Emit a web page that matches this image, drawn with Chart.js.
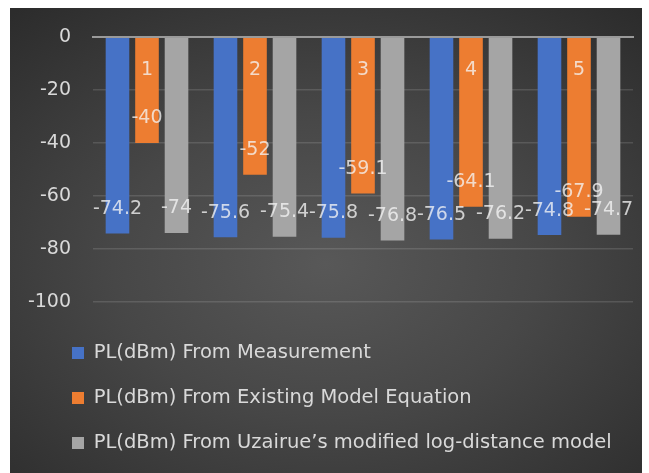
<!DOCTYPE html>
<html>
<head>
<meta charset="utf-8">
<script src="https://cdn.jsdelivr.net/npm/chart.js@4"></script>
<style>
  html, body { margin: 0; padding: 0; background: #ffffff; }
  body { width: 649px; height: 473px; position: relative; overflow: hidden; }
  #panel {
    position: absolute; left: 10px; top: 8px; width: 632px; height: 465px;
    background: radial-gradient(ellipse 75% 72% at 50% 55%, #585858 0%, #474747 45%, #2c2c2c 100%);
  }
  #chart { display: block; }
</style>
</head>
<body>
<div id="panel"><canvas id="chart" width="632" height="465"></canvas></div>
<script>
// Path loss at five measurement points
const categories = ['1', '2', '3', '4', '5'];
const measured = [-74.2, -75.6, -75.8, -76.5, -74.8];
const existingModel = [-40, -52, -59.1, -64.1, -67.9];
const modifiedModel = [-74, -75.4, -76.8, -76.2, -74.7];
const seriesNames = [
  'PL(dBm) From Measurement',
  'PL(dBm) From Existing Model Equation',
  'PL(dBm) From Uzairue\u2019s modified log-distance model'
];
const yTicks = [0, -20, -40, -60, -80, -100];

const FONT = 'DejaVu Sans';
const LABEL_COLOR = 'rgba(245,245,245,0.78)';

// Value labels drawn inside the end of every bar
const valueLabels = {
  id: 'valueLabels',
  afterDatasetsDraw(chart) {
    const ctx = chart.ctx;
    ctx.save();
    ctx.font = '19px "' + FONT + '"';
    ctx.fillStyle = LABEL_COLOR;
    ctx.textAlign = 'center';
    ctx.textBaseline = 'middle';
    chart.data.datasets.forEach((ds, di) => {
      const meta = chart.getDatasetMeta(di);
      meta.data.forEach((bar, i) => {
        ctx.fillText(String(ds.data[i]), bar.x, bar.y - 24.5);
      });
    });
    ctx.restore();
  }
};

// Indent the legend block so it lines up under the plot
const legendIndent = {
  id: 'legendIndent',
  afterLayout(chart) {
    if (chart.legend) chart.legend.left += 20.5;
  }
};

new Chart(document.getElementById('chart'), {
  type: 'bar',
  data: {
    labels: categories,
    datasets: [
      { label: seriesNames[0], data: measured, backgroundColor: '#4672c6', borderWidth: 0 },
      { label: seriesNames[1], data: existingModel, backgroundColor: '#ed7d31', borderWidth: 0 },
      { label: seriesNames[2], data: modifiedModel, backgroundColor: '#a5a5a5', borderWidth: 0 }
    ]
  },
  options: {
    responsive: false,
    devicePixelRatio: 1,
    animation: false,
    events: [],
    datasets: { bar: { categoryPercentage: 0.82, barPercentage: 0.8 } },
    layout: { padding: { left: 16, right: 9, top: 29, bottom: 10.25 } },
    plugins: {
      tooltip: { enabled: false },
      legend: {
        position: 'bottom',
        align: 'start',
        labels: {
          color: '#d9d9d9',
          font: { family: FONT, size: 19.5 },
          boxWidth: 12,
          boxHeight: 12,
          padding: 25.5
        }
      }
    },
    scales: {
      x: {
        position: { y: 0 },
        grid: { display: false, drawTicks: false },
        border: { display: true, color: '#9a9a9a', width: 2, z: 1 },
        ticks: {
          z: 1,
          color: LABEL_COLOR,
          font: { family: FONT, size: 19 },
          padding: 21.6,
          maxRotation: 0
        },
        afterFit(scale) { scale.height = 0; }
      },
      y: {
        min: -106,
        max: 0,
        afterBuildTicks(scale) { scale.ticks = yTicks.map(v => ({ value: v })); },
        grid: {
          color: 'rgba(255,255,255,0.13)',
          lineWidth: 1.5,
          drawTicks: true,
          tickLength: 22,
          tickColor: 'rgba(0,0,0,0)'
        },
        border: { display: false },
        ticks: {
          color: '#d9d9d9',
          font: { family: FONT, size: 19 },
          padding: 0
        },
        afterFit(scale) { scale.width = 67; }
      }
    }
  },
  plugins: [valueLabels, legendIndent]
});
</script>
</body>
</html>
